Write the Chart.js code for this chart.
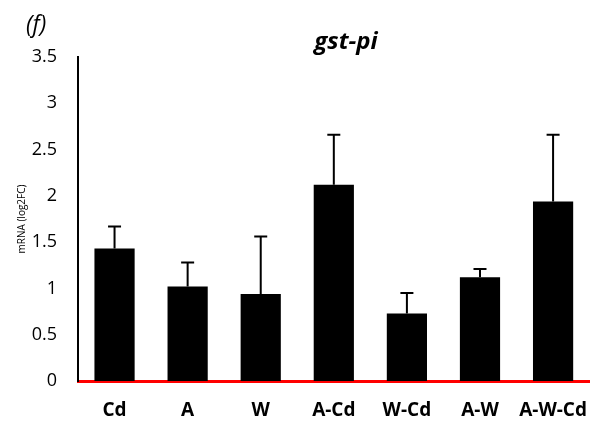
<!DOCTYPE html>
<html>
<head>
<meta charset="utf-8">
<script src="https://cdn.jsdelivr.net/npm/chart.js@4/dist/chart.umd.min.js"></script>
<style>
  html, body { margin: 0; padding: 0; background: #fff; }
  #wrap { width: 606px; height: 422px; position: relative; }
</style>
</head>
<body>
<div id="wrap"><canvas id="chart"></canvas></div>
<script>
// gst-pi expression per treatment group
const groups = ['Cd', 'A', 'W', 'A-Cd', 'W-Cd', 'A-W', 'A-W-Cd'];
const means = [1.43, 1.02, 0.94, 2.12, 0.73, 1.12, 1.94];
const errors = [0.24, 0.26, 0.62, 0.54, 0.22, 0.09, 0.72];
const yTicks = [0, 0.5, 1, 1.5, 2, 2.5, 3, 3.5];

const FONT = '"Open Sans", "Liberation Sans", sans-serif';

// upper error whiskers on top of each bar
const errorBars = {
  id: 'errorBars',
  afterDatasetsDraw(chart) {
    const ctx = chart.ctx;
    const y = chart.scales.y;
    const meta = chart.getDatasetMeta(0);
    ctx.save();
    ctx.strokeStyle = '#000';
    ctx.lineWidth = 2;
    meta.data.forEach((bar, i) => {
      const top = y.getPixelForValue(means[i] + errors[i]);
      ctx.beginPath();
      ctx.moveTo(bar.x, bar.y);
      ctx.lineTo(bar.x, top);
      ctx.moveTo(bar.x - 6.5, top);
      ctx.lineTo(bar.x + 6.5, top);
      ctx.stroke();
    });
    ctx.restore();
  }
};

// panel letter and gene name
const headings = {
  id: 'headings',
  afterDraw(chart) {
    const ctx = chart.ctx;
    ctx.save();
    ctx.fillStyle = '#000';
    ctx.textBaseline = 'alphabetic';
    ctx.textAlign = 'left';
    ctx.font = 'italic 23px ' + FONT;
    ctx.fillText('(f)', 26, 32);
    ctx.textAlign = 'center';
    ctx.font = 'italic bold 24px ' + FONT;
    ctx.fillText('gst-pi', 346, 49);
    ctx.restore();
  }
};

new Chart(document.getElementById('chart'), {
  type: 'bar',
  data: {
    labels: groups,
    datasets: [{
      data: means,
      backgroundColor: '#000',
      borderWidth: 0,
      barPercentage: 0.55,
      categoryPercentage: 1
    }]
  },
  options: {
    responsive: true,
    maintainAspectRatio: false,
    animation: false,
    layout: { padding: { top: 57, right: 14, bottom: 0, left: 0 } },
    plugins: {
      legend: { display: false },
      tooltip: { enabled: false }
    },
    scales: {
      x: {
        z: 1,
        grid: { display: false, drawTicks: false },
        border: { display: true, color: '#ff0000', width: 3 },
        ticks: {
          color: '#000',
          padding: 18,
          minRotation: 0,
          maxRotation: 0,
          autoSkip: false,
          font: { family: FONT, size: 19, weight: 'bold' }
        },
        afterFit(scale) { scale.height = 41; }
      },
      y: {
        min: 0,
        max: 3.5,
        afterBuildTicks(scale) { scale.ticks = yTicks.map(v => ({ value: v })); },
        grid: { display: false, drawTicks: false },
        border: { display: true, color: '#000', width: 2 },
        ticks: {
          color: '#000',
          padding: 21,
          font: { family: FONT, size: 18 },
          callback: (v) => String(v)
        },
        title: {
          display: true,
          text: 'mRNA (log2FC)',
          color: '#000',
          padding: { top: 16, bottom: 0 },
          font: { family: FONT, size: 10 }
        },
        afterFit(scale) { scale.width = 78; }
      }
    }
  },
  plugins: [errorBars, headings]
});
</script>
</body>
</html>
